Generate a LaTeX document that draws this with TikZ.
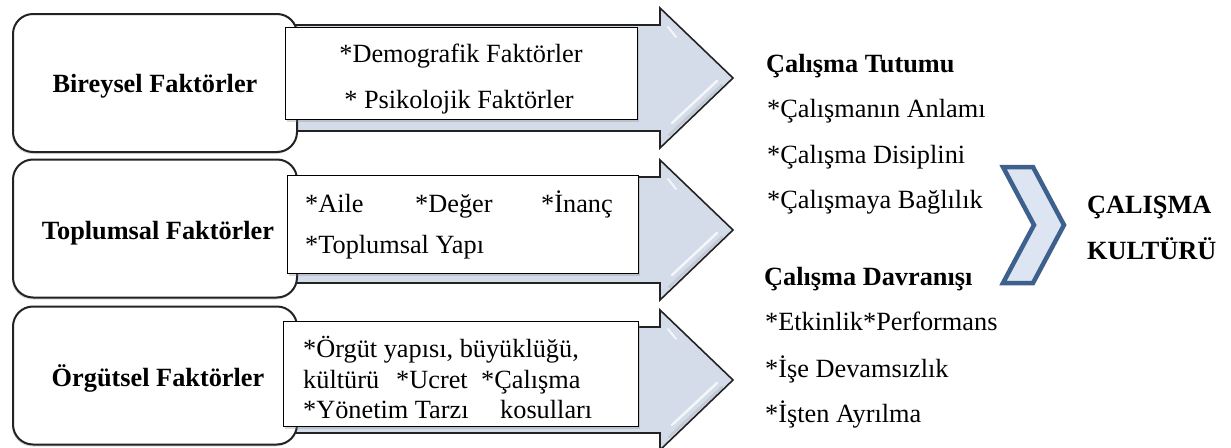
\documentclass[tikz,border=0pt]{standalone}
\usepackage{fontspec}
\setmainfont{Liberation Serif}
\usetikzlibrary{shadows}
\definecolor{arrowfill}{RGB}{213,220,233}
\definecolor{arrowedge}{RGB}{35,35,35}
\definecolor{chevline}{RGB}{62,96,140}
\definecolor{chevfill}{RGB}{220,229,241}
\begin{document}
\begin{tikzpicture}[x=1pt,y=-1pt,
  font=\fontsize{26.3pt}{31pt}\selectfont,
  factorbox/.style={draw=arrowedge, line width=2pt, rounded corners=20pt, fill=white,
    minimum width=284pt, minimum height=138pt, inner sep=0pt,
    drop shadow={shadow xshift=-1pt, shadow yshift=-2pt, opacity=0.25}},
  itembox/.style={draw=black, line width=1pt, fill=white, inner sep=0pt,
    drop shadow={shadow xshift=2pt, shadow yshift=-3pt, opacity=0.3}},
  txt/.style={inner sep=0pt, anchor=base west},
  ctxt/.style={inner sep=0pt, anchor=base},
  bold/.style={font=\fontsize{26.3pt}{31pt}\selectfont\bfseries},
  flowarrow/.pic={
    \draw[fill=arrowfill, draw=arrowedge, line width=1.6pt, line join=miter]
      (200,-53) -- (660,-53) -- (660,-70) -- (733,0) -- (660,70) -- (660,53) -- (200,53) -- cycle;
    % soft bevel highlights on the arrow head
    \draw[black!40, line width=2.5pt, opacity=0.25, line cap=round] (669,57) -- (722,7);
    \draw[white, line width=2.5pt, opacity=0.75, line cap=round] (672,45) -- (717,3);
    \draw[white, line width=2pt, opacity=0.75, line cap=round] (668,-51) -- (676,-41);
  }]
\useasboundingbox (0,0) rectangle (1231,447);

% arrows behind the factor boxes
\pic at (0,78) {flowarrow};
\pic at (0,230) {flowarrow};
\pic at (0,380) {flowarrow};

% factor boxes
\node[factorbox] (bireysel) at (155,83) {};
\node[factorbox] (toplumsal) at (155,228.5) {};
\node[factorbox] (orgutsel) at (155,375.5) {};
\node[txt, bold, anchor=base] (bireyselT) at (155,92) {Bireysel Faktörler};
\node[txt, bold, anchor=base] (toplumsalT) at (158,239) {Toplumsal Faktörler};
\node[txt, bold, anchor=base] (orgutselT) at (158,386) {Örgütsel Faktörler};

% item boxes on the arrows
\node[itembox, minimum width=352pt, minimum height=92pt] (w1) at (461,73) {};
\node[itembox, minimum width=351pt, minimum height=98pt] (w2) at (462.5,224) {};
\node[itembox, minimum width=355pt, minimum height=105pt] (w3) at (460.5,373.5) {};

\node[ctxt] (d1) at (461,62) {*Demografik Faktörler};
\node[ctxt] (d2) at (459,108) {* Psikolojik Faktörler};

\node[txt] (s1) at (305,212) {*Aile};
\node[txt] (s2) at (415,212) {*Değer};
\node[txt] (s3) at (541,212) {*İnanç};
\node[txt] (s4) at (305,253) {*Toplumsal Yapı};

\node[txt] (o1) at (303,357) {*Örgüt yapısı, büyüklüğü,};
\node[txt] (o2) at (303,388) {kültürü};
\node[txt] (o3) at (396,388) {*Ucret};
\node[txt] (o4) at (481,388) {*Çalışma};
\node[txt] (o5) at (303,418) {*Yönetim Tarzı};
\node[txt] (o6) at (500,418) {kosulları};

% outcome column
\node[txt, bold] (tutum) at (766,72) {Çalışma Tutumu};
\node[txt] (r1) at (767,117) {*Çalışmanın Anlamı};
\node[txt] (r2) at (767,163) {*Çalışma Disiplini};
\node[txt] (r3) at (767,208) {*Çalışmaya Bağlılık};
\node[txt, bold] (davranis) at (764,285) {Çalışma Davranışı};
\node[txt] (r4) at (765,330) {*Etkinlik*Performans};
\node[txt] (r5) at (765,377) {*İşe Devamsızlık};
\node[txt] (r6) at (765,422) {*İşten Ayrılma};

% chevron and result
\draw[fill=chevfill, draw=chevline, line width=4.5pt, line join=miter]
  (1003,167) -- (1033,167) -- (1064,225) -- (1033,283) -- (1003,283) -- (1034,225) -- cycle;
\node[txt, bold] (kultur1) at (1087,213) {ÇALIŞMA};
\node[txt, bold] (kultur2) at (1087,259) {KULTÜRÜ};
\end{tikzpicture}
\end{document}
